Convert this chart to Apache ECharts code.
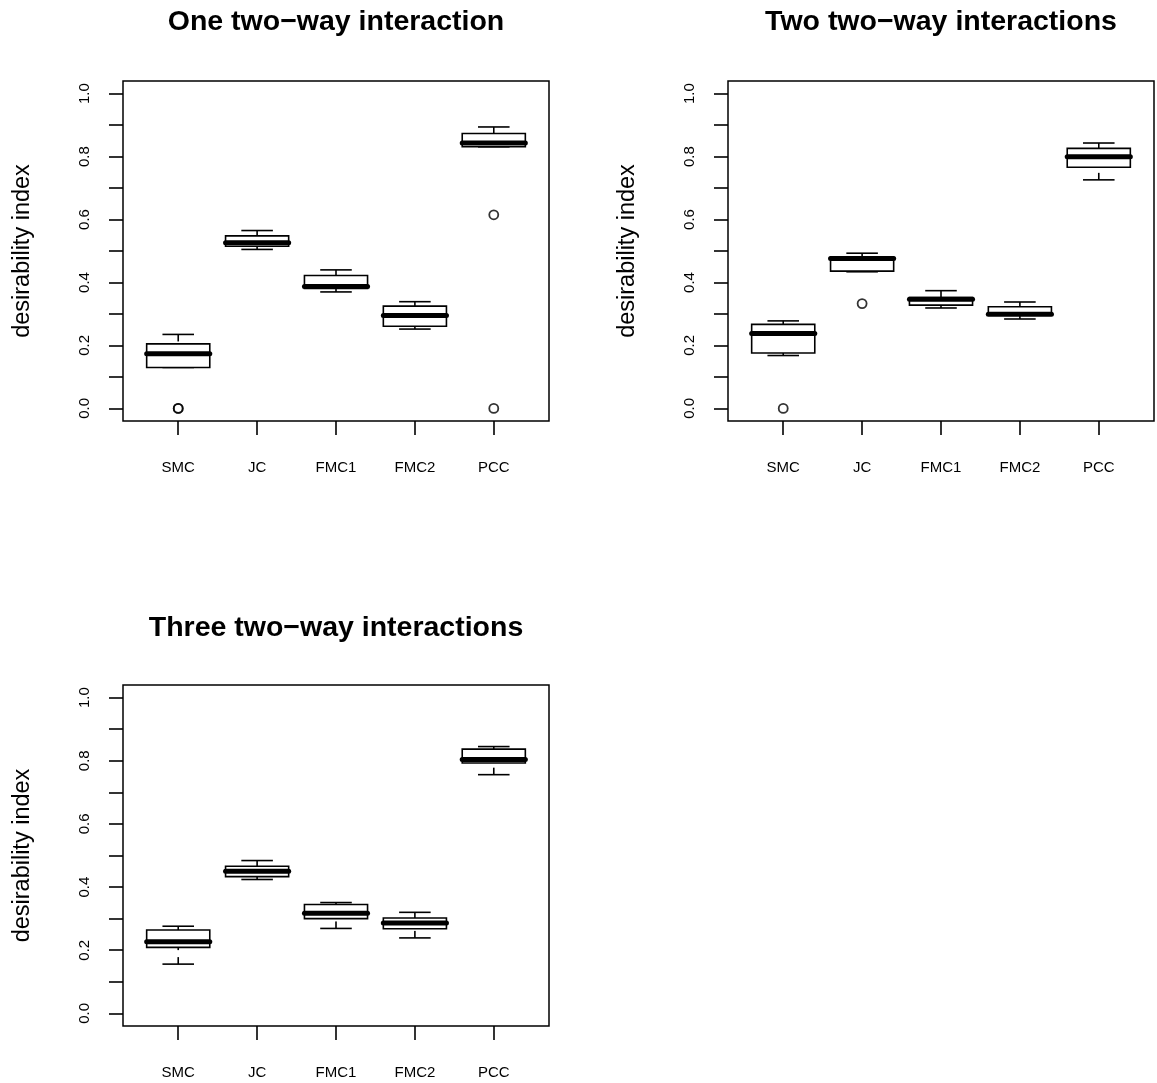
<!DOCTYPE html>
<html>
<head>
<meta charset="utf-8">
<title>desirability index boxplots</title>
<script src="https://cdn.jsdelivr.net/npm/echarts@6/dist/echarts.min.js"></script>
<style>
  html, body { margin: 0; padding: 0; background: #fff; }
  #main { width: 1157px; height: 1083px; }
</style>
</head>
<body>
<div id="main"></div>
<script>
// categories on the x axis
var categories = ['SMC', 'JC', 'FMC1', 'FMC2', 'PCC'];

// panel titles
var titles = ['One two\u2212way interaction', 'Two two\u2212way interactions', 'Three two\u2212way interactions'];

// box stats per method: [lower whisker, Q1, median, Q3, upper whisker]
var oneWayStats = [
    [0.130, 0.130, 0.174, 0.205, 0.235],
    [0.505, 0.515, 0.526, 0.548, 0.565],
    [0.370, 0.381, 0.387, 0.422, 0.440],
    [0.252, 0.261, 0.295, 0.325, 0.339],
    [0.831, 0.831, 0.843, 0.873, 0.894]
];
var twoWayStats = [
    [0.168, 0.176, 0.238, 0.267, 0.278],
    [0.434, 0.436, 0.476, 0.480, 0.493],
    [0.319, 0.328, 0.347, 0.352, 0.374],
    [0.284, 0.297, 0.299, 0.323, 0.338],
    [0.726, 0.766, 0.799, 0.826, 0.843]
];
var threeWayStats = [
    [0.156, 0.209, 0.227, 0.264, 0.276],
    [0.424, 0.433, 0.450, 0.466, 0.484],
    [0.269, 0.300, 0.317, 0.345, 0.351],
    [0.239, 0.268, 0.286, 0.302, 0.320],
    [0.756, 0.793, 0.804, 0.837, 0.845]
];

// outliers: [category index (1-based), value]
var oneWayOutliers = [[1, 0.0], [1, 0.0], [5, 0.615], [5, 0.0]];
var twoWayOutliers = [[1, 0.0], [2, 0.333]];
var threeWayOutliers = [];

// y ticks
var yTicks = [0, 0.1, 0.2, 0.3, 0.4, 0.5, 0.6, 0.7, 0.8, 0.9, 1.0];
var yLabels = [0, 0.2, 0.4, 0.6, 0.8, 1.0];

var panels = [
    { stats: oneWayStats, outliers: oneWayOutliers, left: 123, top: 81, width: 426, height: 340, titleY: 8 },
    { stats: twoWayStats, outliers: twoWayOutliers, left: 728, top: 81, width: 426, height: 340, titleY: 8 },
    { stats: threeWayStats, outliers: threeWayOutliers, left: 123, top: 685, width: 426, height: 341, titleY: 614 }
];

var FONT = '"Liberation Sans", Arial, Helvetica, sans-serif';
var LW = 1.6;

function renderBox(params, api) {
    var x = api.value(0);
    var lo = api.coord([x, api.value(1)]);
    var q1 = api.coord([x, api.value(2)]);
    var md = api.coord([x, api.value(3)]);
    var q3 = api.coord([x, api.value(4)]);
    var hi = api.coord([x, api.value(5)]);
    var bw = api.size([0.8, 0])[0];
    var sw = api.size([0.4, 0])[0];
    var cx = md[0];
    var solid = { stroke: '#000', lineWidth: LW, fill: null };
    var dashed = { stroke: '#000', lineWidth: LW, lineDash: [7, 7], fill: null };
    return {
        type: 'group',
        children: [
            { type: 'line', shape: { x1: cx, y1: hi[1], x2: cx, y2: q3[1] }, style: dashed },
            { type: 'line', shape: { x1: cx, y1: lo[1], x2: cx, y2: q1[1] }, style: dashed },
            { type: 'line', shape: { x1: cx - sw / 2, y1: hi[1], x2: cx + sw / 2, y2: hi[1] }, style: solid },
            { type: 'line', shape: { x1: cx - sw / 2, y1: lo[1], x2: cx + sw / 2, y2: lo[1] }, style: solid },
            { type: 'rect', shape: { x: cx - bw / 2, y: q3[1], width: bw, height: q1[1] - q3[1] },
              style: { fill: '#fff', stroke: '#000', lineWidth: LW } },
            { type: 'line', shape: { x1: cx - bw / 2, y1: md[1], x2: cx + bw / 2, y2: md[1] },
              style: { stroke: '#000', lineWidth: 5, lineCap: 'round' } }
        ]
    };
}

var grids = [], xAxes = [], yAxes = [], series = [], titleList = [];

panels.forEach(function (p, i) {
    grids.push({
        left: p.left, top: p.top, width: p.width, height: p.height,
        show: true, borderColor: '#000', borderWidth: 1.5, backgroundColor: 'transparent'
    });
    xAxes.push({
        type: 'value', gridIndex: i, min: 0.3, max: 5.7, position: 'bottom',
        axisLine: { show: false, onZero: false },
        splitLine: { show: false },
        axisTick: { show: true, length: 14, lineStyle: { color: '#000', width: LW }, customValues: [1, 2, 3, 4, 5] },
        axisLabel: {
            show: true, margin: 39, color: '#000', fontSize: 15, fontFamily: FONT,
            customValues: [1, 2, 3, 4, 5],
            formatter: function (v) { return categories[Math.round(v) - 1] || ''; }
        }
    });
    yAxes.push({
        type: 'value', gridIndex: i, min: -0.04, max: 1.04, position: 'left',
        name: 'desirability index', nameLocation: 'middle', nameRotate: 90, nameGap: 88,
        nameTextStyle: { color: '#000', fontSize: 23.5, fontFamily: FONT },
        axisLine: { show: false, onZero: false },
        splitLine: { show: false },
        axisTick: { show: true, length: 14, lineStyle: { color: '#000', width: LW }, customValues: yTicks },
        axisLabel: {
            show: true, margin: 31, rotate: 90, color: '#000', fontSize: 15, fontFamily: FONT,
            customValues: yLabels,
            formatter: function (v) { return v.toFixed(1); }
        }
    });
    series.push({
        type: 'custom', xAxisIndex: i, yAxisIndex: i,
        renderItem: renderBox,
        encode: { x: 0, y: [1, 2, 3, 4, 5] },
        data: p.stats.map(function (s, k) { return [k + 1].concat(s); }),
        z: 3
    });
    series.push({
        type: 'scatter', xAxisIndex: i, yAxisIndex: i,
        symbol: 'circle', symbolSize: 9,
        itemStyle: { color: 'rgba(0,0,0,0)', borderColor: '#000', borderWidth: 1.8 },
        data: p.outliers,
        z: 4
    });
    titleList.push({
        text: titles[i],
        left: p.left + p.width / 2, top: p.titleY, textAlign: 'center', padding: 0,
        textStyle: { color: '#000', fontSize: 28.5, fontWeight: 'bold', fontFamily: FONT }
    });
});

var chart = echarts.init(document.getElementById('main'), null, { renderer: 'canvas' });
chart.setOption({
    animation: false,
    backgroundColor: '#fff',
    title: titleList,
    grid: grids,
    xAxis: xAxes,
    yAxis: yAxes,
    series: series
});
</script>
</body>
</html>
